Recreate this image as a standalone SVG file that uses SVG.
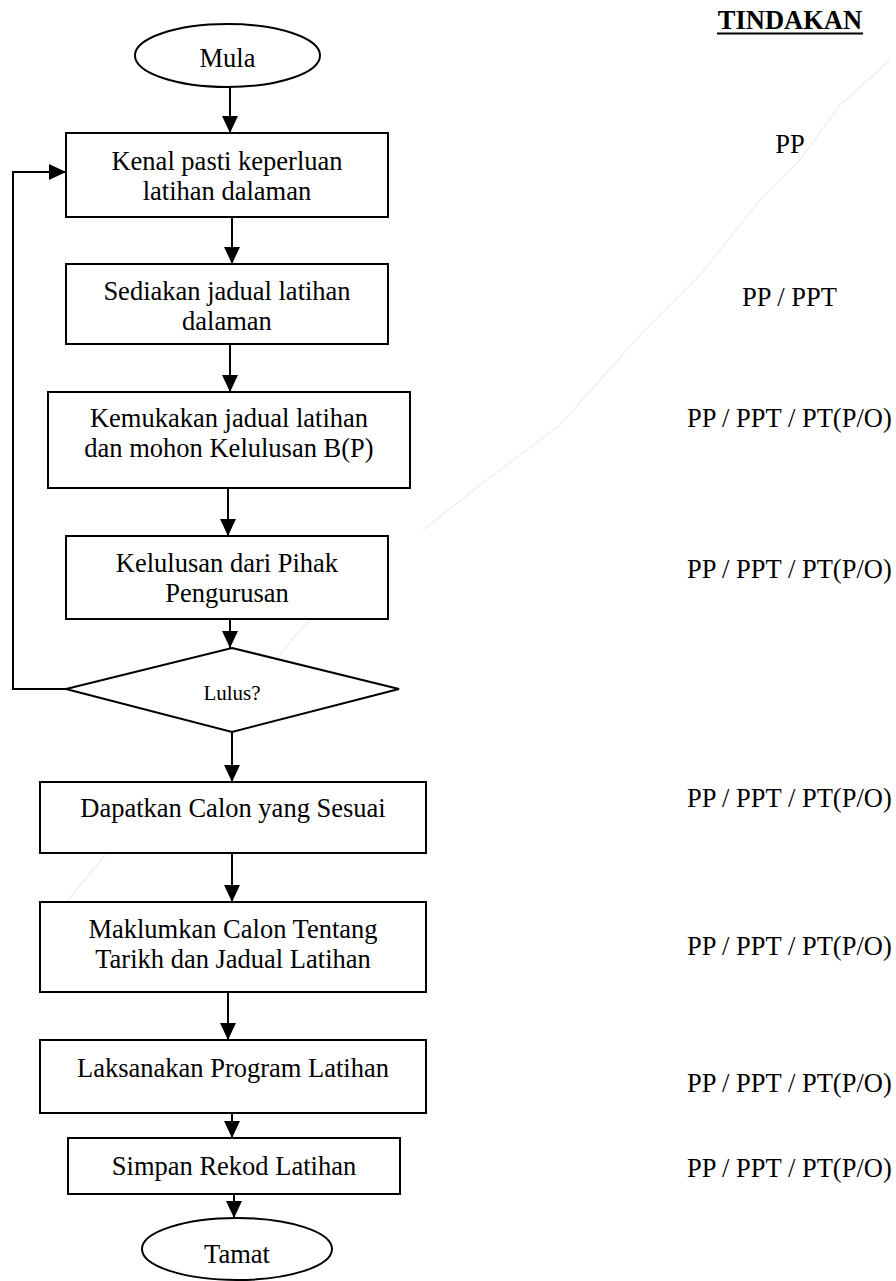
<svg xmlns="http://www.w3.org/2000/svg" width="896" height="1281" viewBox="0 0 896 1281">
<style>
.shape{fill:#fff;stroke:#000;stroke-width:2}
.t{font-family:"Liberation Serif","Times New Roman",serif;font-size:26.5px;fill:#000}
.c{text-anchor:middle}
.conn{fill:none;stroke:#000;stroke-width:2}
.wm{fill:none;stroke:#ededed;stroke-width:1.2}
</style>
<defs>
<marker id="ah" markerUnits="userSpaceOnUse" markerWidth="17" markerHeight="16" refX="17" refY="8" orient="auto">
<path d="M0,0 L17,8 L0,16 Z" fill="#000"/>
</marker>
</defs>
<rect width="896" height="1281" fill="#fff"/>
<g id="watermark">
<path class="wm" d="M890,60 L840,105 L800,160 L760,200 L700,275 L640,335 L560,425 L480,485 L423,530"/>
<path class="wm" d="M330,600 L300,630 L260,680 L225,730"/>
<path class="wm" d="M105,855 L60,910 L40,940"/>
</g>
<g id="connectors">
<line class="conn" x1="230" y1="87" x2="230" y2="133" marker-end="url(#ah)"/>
<line class="conn" x1="232" y1="217" x2="232" y2="264" marker-end="url(#ah)"/>
<line class="conn" x1="230" y1="344" x2="230" y2="392" marker-end="url(#ah)"/>
<line class="conn" x1="228" y1="488" x2="228" y2="536" marker-end="url(#ah)"/>
<line class="conn" x1="230" y1="619" x2="230" y2="648" marker-end="url(#ah)"/>
<line class="conn" x1="232" y1="732" x2="232" y2="782" marker-end="url(#ah)"/>
<line class="conn" x1="232" y1="853" x2="232" y2="902" marker-end="url(#ah)"/>
<line class="conn" x1="228" y1="992" x2="228" y2="1040" marker-end="url(#ah)"/>
<line class="conn" x1="232" y1="1113" x2="232" y2="1138" marker-end="url(#ah)"/>
<line class="conn" x1="234" y1="1194" x2="234" y2="1218" marker-end="url(#ah)"/>
<polyline class="conn" points="66,689 13,689 13,172 66,172" marker-end="url(#ah)"/>
</g>
<g id="mula">
<ellipse class="shape" cx="227.5" cy="55.5" rx="92.5" ry="31.5"/>
<text class="t c" x="227.5" y="67">Mula</text>
</g>
<g id="kenal">
<rect class="shape" x="66" y="133" width="322" height="84"/>
<text class="t c" x="227" y="170">Kenal pasti keperluan</text>
<text class="t c" x="227" y="200">latihan dalaman</text>
</g>
<g id="sediakan">
<rect class="shape" x="66" y="264" width="322" height="80"/>
<text class="t c" x="227" y="300">Sediakan jadual latihan</text>
<text class="t c" x="227" y="330">dalaman</text>
</g>
<g id="kemukakan">
<rect class="shape" x="48" y="392" width="362" height="96"/>
<text class="t c" x="229" y="427">Kemukakan jadual latihan</text>
<text class="t c" x="229" y="457">dan mohon Kelulusan B(P)</text>
</g>
<g id="kelulusan">
<rect class="shape" x="66" y="536" width="322" height="83"/>
<text class="t c" x="227" y="572">Kelulusan dari Pihak</text>
<text class="t c" x="227" y="602">Pengurusan</text>
</g>
<g id="lulus">
<polygon class="shape" points="232,648 399,689 232,732 66,689"/>
<text class="t c" x="232" y="700" style="font-size:21px">Lulus?</text>
</g>
<g id="dapatkan">
<rect class="shape" x="40" y="782" width="386" height="71"/>
<text class="t c" x="233" y="817">Dapatkan Calon yang Sesuai</text>
</g>
<g id="maklumkan">
<rect class="shape" x="40" y="902" width="386" height="90"/>
<text class="t c" x="233" y="938">Maklumkan Calon Tentang</text>
<text class="t c" x="233" y="968">Tarikh dan Jadual Latihan</text>
</g>
<g id="laksanakan">
<rect class="shape" x="40" y="1040" width="386" height="73"/>
<text class="t c" x="233" y="1077">Laksanakan Program Latihan</text>
</g>
<g id="simpan">
<rect class="shape" x="68" y="1138" width="332" height="56"/>
<text class="t c" x="234" y="1175">Simpan Rekod Latihan</text>
</g>
<g id="tamat">
<ellipse class="shape" cx="237" cy="1249" rx="95" ry="31"/>
<text class="t c" x="237" y="1263">Tamat</text>
</g>
<g id="tindakan">
<text class="t c" x="790" y="29" style="font-weight:bold">TINDAKAN</text>
<line x1="717" y1="33.5" x2="863" y2="33.5" stroke="#000" stroke-width="2"/>
<text class="t c" x="790" y="153">PP</text>
<text class="t c" x="789.5" y="306">PP / PPT</text>
<text class="t" x="687" y="427">PP / PPT / PT(P/O)</text>
<text class="t" x="687" y="578">PP / PPT / PT(P/O)</text>
<text class="t" x="687" y="807">PP / PPT / PT(P/O)</text>
<text class="t" x="687" y="955">PP / PPT / PT(P/O)</text>
<text class="t" x="687" y="1092">PP / PPT / PT(P/O)</text>
<text class="t" x="687" y="1177">PP / PPT / PT(P/O)</text>
</g>
</svg>
